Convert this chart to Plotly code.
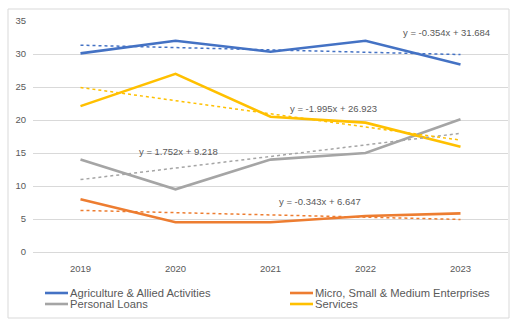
import plotly.graph_objects as go

years = ["2019", "2020", "2021", "2022", "2023"]
series_names = ["Agriculture & Allied Activities", "Micro, Small & Medium Enterprises",
                "Personal Loans", "Services"]
agri = [30.1, 32.0, 30.35, 32.0, 28.4]
msme = [8.0, 4.5, 4.5, 5.45, 5.85]
personal = [14.0, 9.5, 14.0, 15.0, 20.1]
services = [22.1, 27.0, 20.5, 19.6, 15.95]
trend_slopes = [-0.354, -0.343, 1.752, -1.995]
trend_intercepts = [31.684, 6.647, 9.218, 26.923]
trend_labels = ["y = -0.354x + 31.684", "y = -0.343x + 6.647",
                "y = 1.752x + 9.218", "y = -1.995x + 26.923"]
y_ticks = [0, 5, 10, 15, 20, 25, 30, 35]

colors = ["#4472C4", "#ED7D31", "#A5A5A5", "#FFC000"]
all_vals = [agri, msme, personal, services]

# plot area in pixels (for layout decorations)
L, R, T, B = 33, 508, 21, 252
W, H = R - L, B - T


def px(x):
    return (x - L) / W


def py(y):
    return (B - y) / H


fig = go.Figure()
for name, vals, c in zip(series_names, all_vals, colors):
    fig.add_trace(go.Scatter(x=years, y=vals, mode="lines", name=name,
                             showlegend=False,
                             line=dict(color=c, width=2.6)))
for m, b, c in zip(trend_slopes, trend_intercepts, colors):
    ty = [m * (i + 1) + b for i in range(len(years))]
    fig.add_trace(go.Scatter(x=years, y=ty, mode="lines", showlegend=False,
                             hoverinfo="skip",
                             line=dict(color=c, width=1.5, dash="dot")))

# equation labels
label_pos = [(3.85, 33.2), (2.52, 7.6), (1.03, 15.3), (2.66, 21.8)]
for txt, (lx, ly) in zip(trend_labels, label_pos):
    fig.add_annotation(x=lx, y=ly, xref="x", yref="y", text=txt, showarrow=False,
                       font=dict(size=9.5, color="#595959"))

# chart border
fig.add_shape(type="rect", xref="paper", yref="paper",
              x0=px(8), x1=px(509), y0=py(318), y1=py(9),
              line=dict(color="#D9D9D9", width=1))

# legend (two columns, compact rows)
legend_slots = [(45, 293), (290, 293), (45, 304), (290, 304)]
for name, c, (lx, ly) in zip(series_names, colors, legend_slots):
    fig.add_shape(type="line", xref="paper", yref="paper",
                  x0=px(lx), x1=px(lx + 23), y0=py(ly), y1=py(ly),
                  line=dict(color=c, width=2.6))
    fig.add_annotation(x=px(lx + 23), y=py(ly), xref="paper", yref="paper",
                       text=name, showarrow=False, xanchor="left", yanchor="middle",
                       font=dict(size=11.2, color="#595959"))

fig.update_layout(
    width=510, height=320,
    margin=dict(l=L, r=510 - R, t=T, b=320 - B),
    paper_bgcolor="white", plot_bgcolor="white",
    font=dict(family="Liberation Sans, Arial, sans-serif", color="#595959"),
    showlegend=False,
    xaxis=dict(type="category", range=[-0.5, 4.5], showgrid=False,
               showline=True, linecolor="#D9D9D9", linewidth=1,
               tickfont=dict(size=9.5, color="#595959"), ticks="",
               ticklabelstandoff=8),
    yaxis=dict(range=[0, 35], tickvals=y_ticks, showgrid=True,
               gridcolor="#D9D9D9", gridwidth=1, zeroline=False,
               tickfont=dict(size=9.5, color="#595959"), ticks="",
               ticklabelstandoff=6),
)

fig.write_html("out.html", config={"displayModeBar": False},
               post_script="document.body.style.margin='0';")
